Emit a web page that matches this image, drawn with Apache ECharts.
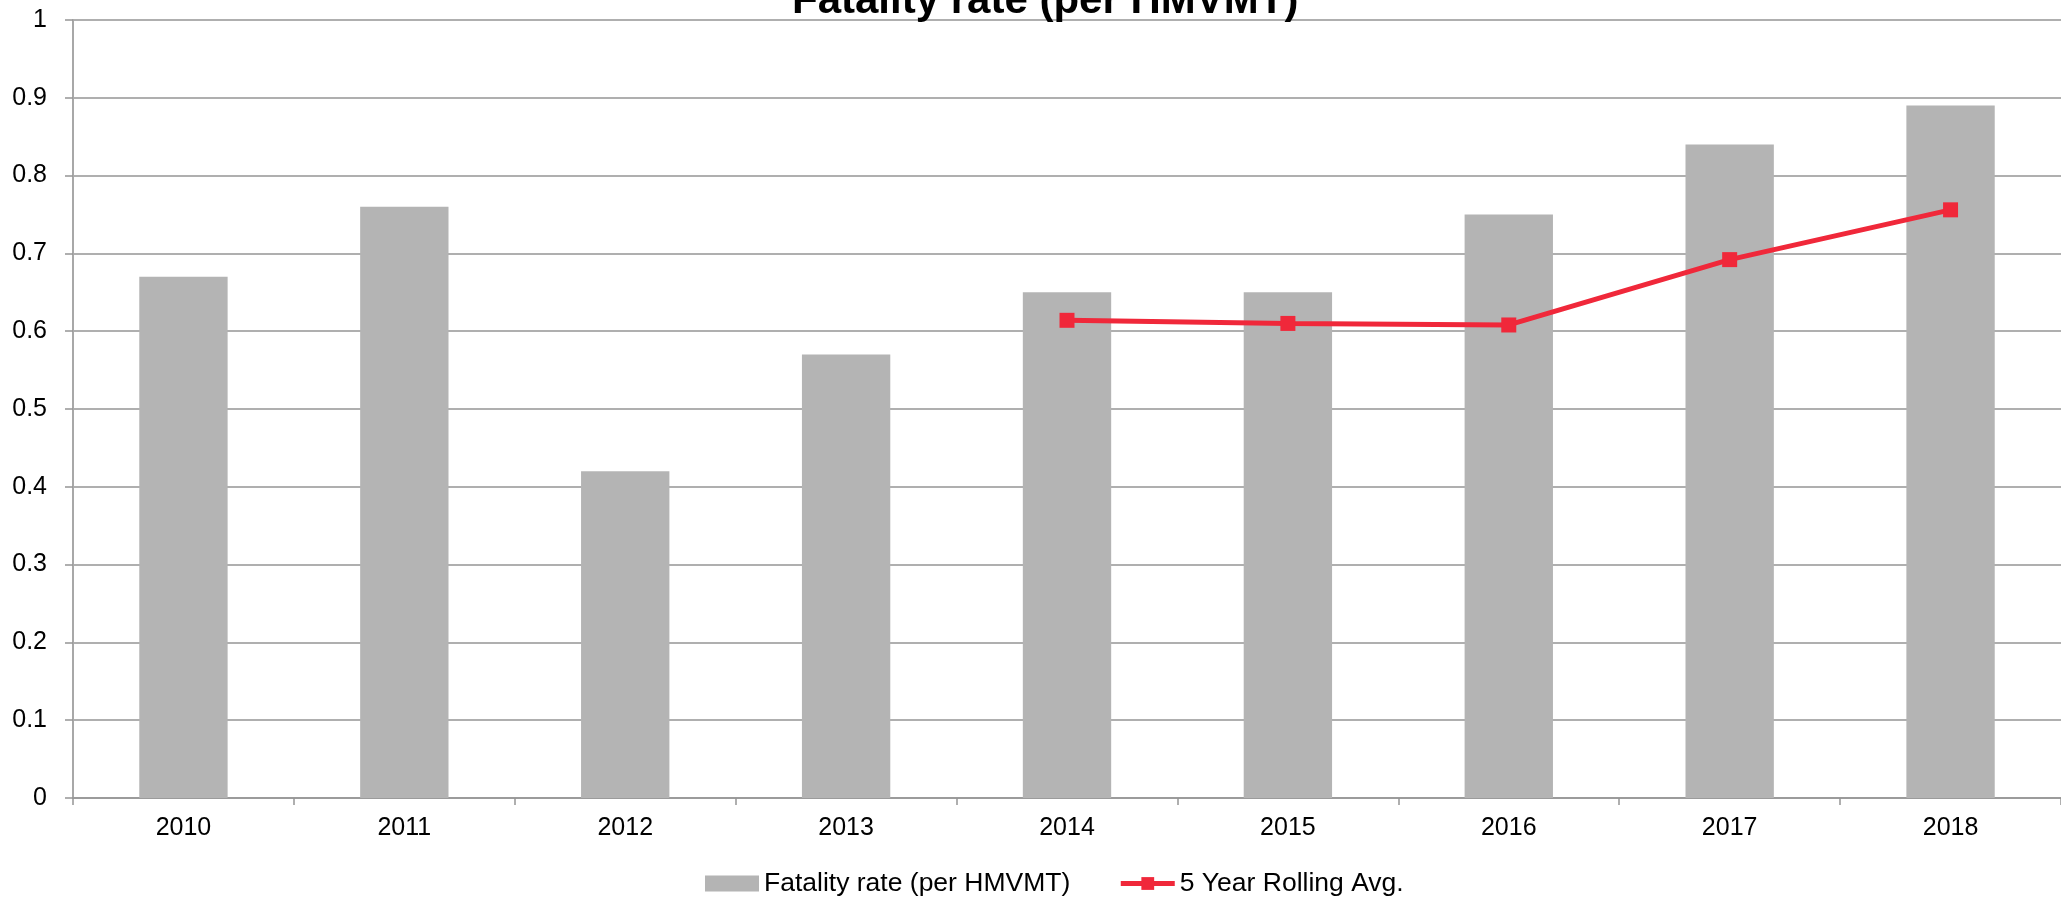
<!DOCTYPE html>
<html>
<head>
<meta charset="utf-8">
<title>Fatality rate (per HMVMT)</title>
<script src="https://cdn.jsdelivr.net/npm/echarts@6/dist/echarts.min.js"></script>
<style>
  html, body { margin: 0; padding: 0; background: #fff; }
  #chart { width: 2061px; height: 898px; }
</style>
</head>
<body>
<div id="chart"></div>
<script>
// Chart data
const years = ['2010', '2011', '2012', '2013', '2014', '2015', '2016', '2017', '2018'];
const fatalityRate = [0.67, 0.76, 0.42, 0.57, 0.65, 0.65, 0.75, 0.84, 0.89];
const rollingAvg = [null, null, null, null, 0.614, 0.61, 0.608, 0.692, 0.756];

const font = '"Liberation Sans", Arial, sans-serif';
const gridColor = '#959595';
const red = '#f0283a';

const myChart = echarts.init(document.getElementById('chart'));

const option = {
  backgroundColor: '#fff',
  animation: false,
  title: {
    text: 'Fatality rate (per HMVMT)',
    left: 792,
    top: -20,
    padding: 0,
    textStyle: { fontFamily: font, fontSize: 42, fontWeight: 'bold', color: '#000' }
  },
  legend: {
    left: 705,
    top: 870,
    itemWidth: 54,
    itemHeight: 16,
    itemGap: 48,
    padding: 0,
    textStyle: { fontFamily: font, fontSize: 26.5, color: '#000' },
    data: [
      { name: 'Fatality rate (per HMVMT)', icon: 'rect' },
      { name: '5 Year Rolling Avg.', lineStyle: { width: 5 } }
    ]
  },
  grid: {
    left: 73,
    top: 20,
    bottom: 100,
    width: 2002 // plot runs a little past the right edge, like the original
  },
  xAxis: {
    type: 'category',
    data: years,
    boundaryGap: true,
    axisLine: { lineStyle: { color: gridColor, width: 1.5 } },
    axisTick: { show: true, length: 7, lineStyle: { color: gridColor, width: 1.5 } },
    axisLabel: { fontFamily: font, fontSize: 25, color: '#000', margin: 18 }
  },
  yAxis: {
    type: 'value',
    min: 0,
    max: 1,
    interval: 0.1,
    axisLine: { show: true, lineStyle: { color: '#a8a8a8', width: 2 } },
    axisTick: { show: true, length: 8, lineStyle: { color: gridColor, width: 1.5 } },
    axisLabel: { fontFamily: font, fontSize: 25, color: '#000', margin: 26 },
    splitLine: { lineStyle: { color: gridColor, width: 1.5 } }
  },
  series: [
    {
      name: 'Fatality rate (per HMVMT)',
      type: 'bar',
      data: fatalityRate,
      barWidth: '40%',
      itemStyle: { color: '#b4b4b4' }
    },
    {
      name: '5 Year Rolling Avg.',
      type: 'line',
      data: rollingAvg,
      symbol: 'rect',
      symbolSize: 15,
      showAllSymbol: true,
      lineStyle: { color: red, width: 5 },
      itemStyle: { color: red }
    }
  ]
};

myChart.setOption(option);
</script>
</body>
</html>
